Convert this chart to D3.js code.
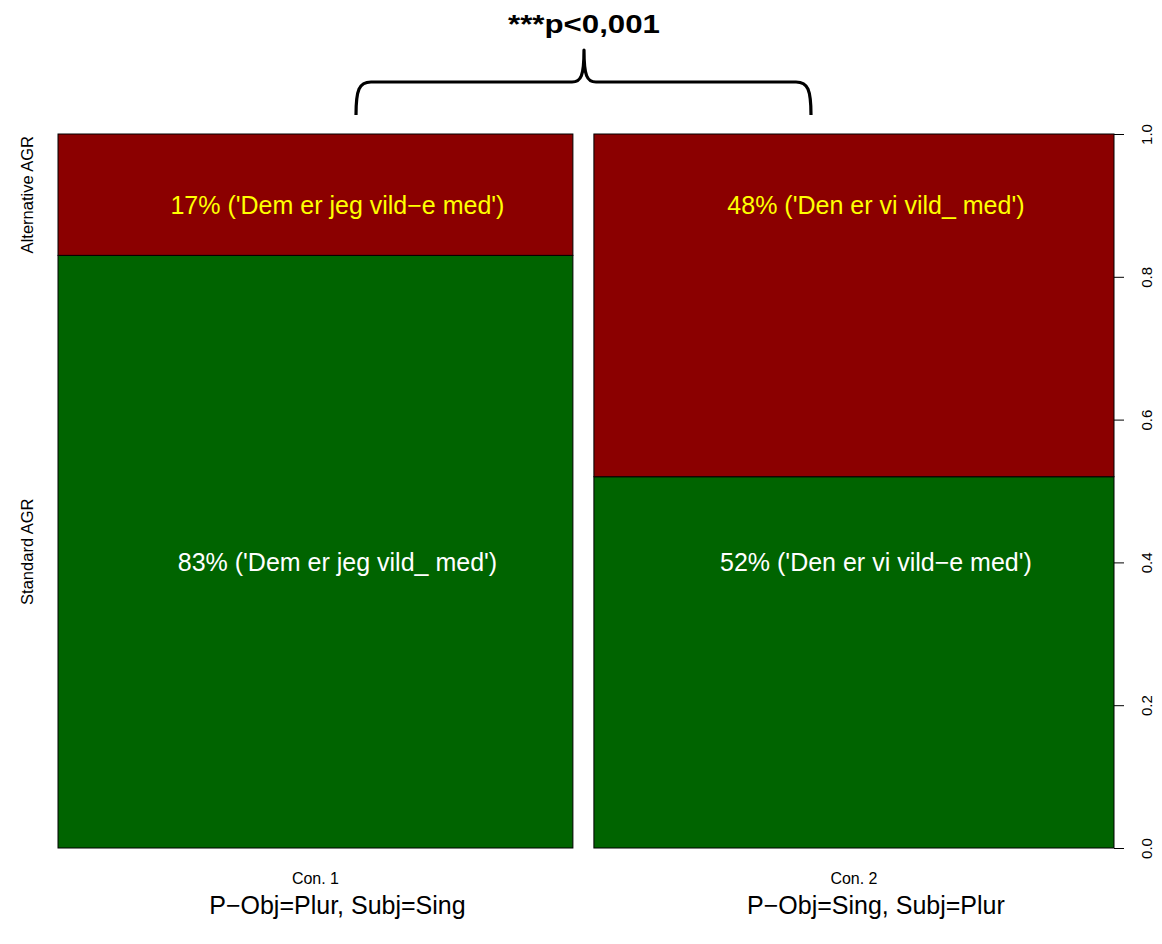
<!DOCTYPE html>
<html>
<head>
<meta charset="utf-8">
<script src="https://cdn.jsdelivr.net/npm/d3@7"></script>
<style>
  html, body { margin: 0; padding: 0; background: #fff; }
  svg { display: block; }
  text { font-family: "Liberation Sans", Arial, Helvetica, sans-serif; }
</style>
</head>
<body>
<svg id="chart" width="1162" height="944"></svg>
<script>
// ---- data ----
const conditions = ["Con. 1", "Con. 2"];
const counts = [99, 100];                 // column widths (spineplot)
const standardShare = [0.83, 0.52];
const alternativeShare = [0.17, 0.48];
const categories = ["Standard AGR", "Alternative AGR"];
const standardLabels = ["83% ('Dem er jeg vild_ med')", "52% ('Den er vi vild\u2212e med')"];
const alternativeLabels = ["17% ('Dem er jeg vild\u2212e med')", "48% ('Den er vi vild_ med')"];
const conditionNotes = ["P\u2212Obj=Plur, Subj=Sing", "P\u2212Obj=Sing, Subj=Plur"];
const yTicks = [0, 0.2, 0.4, 0.6, 0.8, 1.0];
const significance = "***p<0,001";

(function () {
// ---- layout ----
const svg = d3.select("#chart");
const pLeft = 58, pRight = 1114, pTop = 134, pBottom = 848, gap = 21;
const y = d3.scaleLinear().domain([0, 1]).range([pBottom, pTop]);
const total = d3.sum(counts);
const w = d3.scaleLinear().domain([0, total]).range([0, pRight - pLeft - gap * (counts.length - 1)]);
const cum = [0].concat(Array.from(d3.cumsum(counts)));
const cols = conditions.map((c, i) => ({
  name: c,
  x0: pLeft + w(cum[i]) + gap * i,
  x1: pLeft + w(cum[i + 1]) + gap * i,
  std: standardShare[i],
  alt: alternativeShare[i],
  stdLabel: standardLabels[i],
  altLabel: alternativeLabels[i],
  note: conditionNotes[i]
}));

const g = svg.append("g");
// standard (green) segments
g.selectAll("rect.std").data(cols).join("rect")
  .attr("class", "std")
  .attr("x", d => d.x0).attr("width", d => d.x1 - d.x0)
  .attr("y", d => y(d.std)).attr("height", d => y(0) - y(d.std))
  .attr("fill", "#006400").attr("stroke", "#000").attr("stroke-width", 1);
// alternative (red) segments
g.selectAll("rect.alt").data(cols).join("rect")
  .attr("class", "alt")
  .attr("x", d => d.x0).attr("width", d => d.x1 - d.x0)
  .attr("y", d => y(1)).attr("height", d => y(d.std) - y(1))
  .attr("fill", "#8B0000").attr("stroke", "#000").attr("stroke-width", 1);

// in-bar texts
const textShift = 22;
g.selectAll("text.alt").data(cols).join("text")
  .attr("class", "alt")
  .attr("x", d => (d.x0 + d.x1) / 2 + textShift)
  .attr("y", y(0.9))
  .attr("dy", "0.35em")
  .attr("text-anchor", "middle")
  .attr("font-size", 25)
  .attr("fill", "#FFFF00")
  .text(d => d.altLabel);
g.selectAll("text.std").data(cols).join("text")
  .attr("class", "std")
  .attr("x", d => (d.x0 + d.x1) / 2 + textShift)
  .attr("y", y(0.4))
  .attr("dy", "0.35em")
  .attr("text-anchor", "middle")
  .attr("font-size", 25)
  .attr("fill", "#FFFFFF")
  .text(d => d.stdLabel);

// condition names
g.selectAll("text.cond").data(cols).join("text")
  .attr("class", "cond")
  .attr("x", d => (d.x0 + d.x1) / 2)
  .attr("y", 884)
  .attr("text-anchor", "middle")
  .attr("font-size", 16)
  .attr("fill", "#000")
  .text(d => d.name);

// condition notes
g.selectAll("text.note").data(cols).join("text")
  .attr("class", "note")
  .attr("x", d => (d.x0 + d.x1) / 2 + textShift)
  .attr("y", 914)
  .attr("text-anchor", "middle")
  .attr("font-size", 25)
  .attr("fill", "#000")
  .text(d => d.note);

// right axis
const axis = d3.axisRight(y).tickValues(yTicks).tickSize(10).tickFormat(d3.format(".1f"));
const ax = svg.append("g").attr("transform", `translate(${pRight},0)`).call(axis);
ax.select(".domain").remove();
ax.selectAll(".tick line").attr("stroke", "#000");
ax.selectAll(".tick text")
  .attr("x", 0).attr("dy", 0)
  .attr("transform", "translate(38,0) rotate(-90)")
  .attr("text-anchor", "middle")
  .attr("font-size", 15)
  .attr("font-family", "Liberation Sans, Arial, sans-serif")
  .attr("fill", "#000");

// left category labels (positions from first column)
const first = cols[0];
const catY = [y(first.std / 2), y(first.std + first.alt / 2)];
svg.selectAll("text.cat").data(categories).join("text")
  .attr("class", "cat")
  .attr("transform", (d, i) => `translate(33,${catY[i]}) rotate(-90)`)
  .attr("text-anchor", "middle")
  .attr("font-size", 16.5)
  .attr("fill", "#000")
  .text(d => d);

// significance brace
const bx0 = 356, bx1 = 811, by = 82, byEnd = 115, bmid = 584, btip = 50;
const brace = d3.path();
brace.moveTo(bx0, byEnd);
brace.bezierCurveTo(bx0, by + 8, bx0 + 3, by, bx0 + 15, by);
brace.lineTo(bmid - 12, by);
brace.bezierCurveTo(bmid - 3, by, bmid, by - 6, bmid, btip);
brace.bezierCurveTo(bmid, by - 6, bmid + 3, by, bmid + 12, by);
brace.lineTo(bx1 - 15, by);
brace.bezierCurveTo(bx1 - 3, by, bx1, by + 8, bx1, byEnd);
svg.append("path").attr("d", brace.toString())
  .attr("fill", "none").attr("stroke", "#000").attr("stroke-width", 3.2)
  .attr("stroke-linejoin", "round");

svg.append("text")
  .attr("x", bmid).attr("y", 33)
  .attr("text-anchor", "middle")
  .attr("font-family", "Lato, 'Open Sans', sans-serif")
  .attr("font-weight", "bold")
  .attr("font-size", 26)
  .attr("textLength", 152)
  .attr("lengthAdjust", "spacingAndGlyphs")
  .attr("fill", "#000")
  .text(significance);
})();
</script>
</body>
</html>
